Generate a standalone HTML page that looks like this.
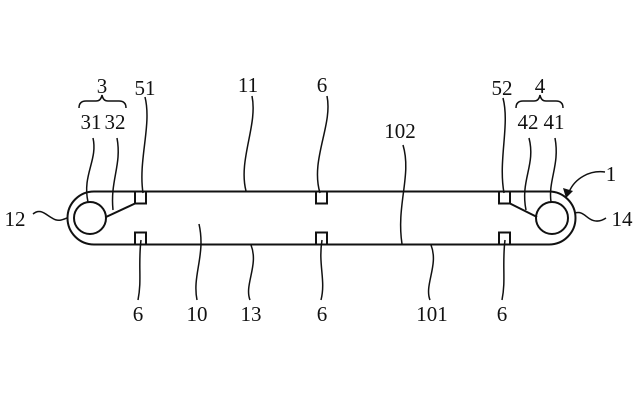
<!DOCTYPE html>
<html><head><style>body{margin:0;background:#fff}svg{display:block}</style></head><body>
<svg width="640" height="400" viewBox="0 0 640 400" xmlns="http://www.w3.org/2000/svg">
<g fill="none" stroke="#111" stroke-width="2">
<path d="M94 191.5 H549 A26.5 26.5 0 0 1 549 244.5 H94 A26.5 26.5 0 0 1 94 191.5 Z"/>
<circle cx="90" cy="218" r="16"/>
<circle cx="552" cy="218" r="16"/>
<rect x="135" y="191.5" width="11" height="12"/>
<rect x="135" y="232.5" width="11" height="12"/>
<rect x="316" y="191.5" width="11" height="12"/>
<rect x="316" y="232.5" width="11" height="12"/>
<rect x="499" y="191.5" width="11" height="12"/>
<rect x="499" y="232.5" width="11" height="12"/>
<path d="M106 217 L135 203.5"/>
<path d="M510 203.5 L537 217"/>
</g>
<g fill="none" stroke="#111" stroke-width="1.5">
<path d="M79 108 Q79 101 86 101 H96 Q101 101 102 95 Q103 101 108 101 H119 Q126 101 126 108"/>
<path d="M516 108 Q516 101 523 101 H534 Q539 101 540 95 Q541 101 546 101 H556 Q563 101 563 108"/>
<path d="M93 138 C98 160 82 175 88 202"/>
<path d="M117 138 C122 165 110 180 113 210"/>
<path d="M145 97 C152 125 138 160 143 193"/>
<path d="M252 96 C258 125 238 160 246 191"/>
<path d="M327 96 C333 125 310 160 320 193"/>
<path d="M403 145 C412 175 396 205 402 244"/>
<path d="M503 98 C510 125 498 160 504 193"/>
<path d="M529 138 C536 165 520 180 526 210"/>
<path d="M555 138 C560 165 548 180 551 202"/>
<path d="M141 240 C138 265 142 280 138 300"/>
<path d="M199 224 C206 255 192 275 197 300"/>
<path d="M251 245 C259 265 244 285 250 300"/>
<path d="M322 240 C318 265 326 280 321 300"/>
<path d="M431 245 C439 265 424 285 430 300"/>
<path d="M505 240 C502 265 506 280 502 300"/>
<path d="M33 214 C40 208 45 214 52 218 C58 222 62 220 67 218"/>
<path d="M575 213 C582 211 585 216 590 219 C595 222 600 222 606 218"/>
<path d="M605 172 C590 170 575 178 569 192"/>
</g>
<polygon points="566,198 563,188 573,191" fill="#111"/>
<g font-family="Liberation Serif, serif" font-size="21" fill="#111" text-anchor="middle">
<text x="102" y="93">3</text>
<text x="91" y="129">31</text>
<text x="115" y="129">32</text>
<text x="145" y="95">51</text>
<text x="248" y="92">11</text>
<text x="322" y="92">6</text>
<text x="400" y="138">102</text>
<text x="502" y="95">52</text>
<text x="540" y="93">4</text>
<text x="528" y="129">42</text>
<text x="554" y="129">41</text>
<text x="611" y="181">1</text>
<text x="15" y="226">12</text>
<text x="622" y="226">14</text>
<text x="138" y="321">6</text>
<text x="197" y="321">10</text>
<text x="251" y="321">13</text>
<text x="322" y="321">6</text>
<text x="432" y="321">101</text>
<text x="502" y="321">6</text>
</g>
</svg>
</body></html>
